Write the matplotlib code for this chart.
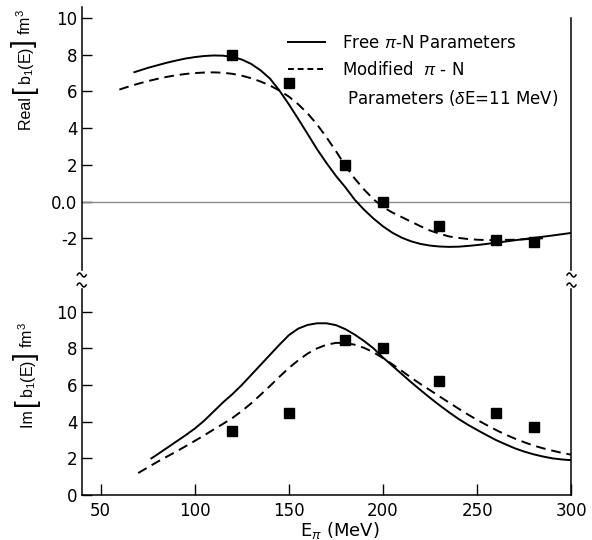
import numpy as np
import matplotlib
matplotlib.use("Agg")
import matplotlib.pyplot as plt
from matplotlib.lines import Line2D

# --- data ---
# top panel: Real part
re_free_x = [68, 75, 80, 85, 90, 95, 100, 105, 110, 115, 120, 125, 130, 135, 140, 145, 150,
             155, 160, 165, 170, 175, 180, 185, 190, 195, 200, 205, 210, 215, 220, 225, 230,
             235, 240, 245, 250, 255, 260, 265, 270, 280, 290, 300]
re_free_y = [7.05, 7.28, 7.42, 7.56, 7.68, 7.79, 7.87, 7.93, 7.96, 7.95, 7.88, 7.74, 7.5, 7.15,
             6.7, 6.05, 5.3, 4.5, 3.68, 2.85, 2.1, 1.4, 0.78, 0.1, -0.45, -0.93, -1.35, -1.7,
             -1.97, -2.17, -2.31, -2.4, -2.45, -2.47, -2.46, -2.42, -2.37, -2.31, -2.24, -2.18,
             -2.11, -1.98, -1.85, -1.71]
re_mod_x = [60, 65, 70, 75, 80, 85, 90, 95, 100, 105, 110, 115, 120, 125, 130, 135, 140, 145,
            150, 155, 160, 165, 170, 175, 180, 185, 190, 195, 200, 205, 210, 215, 220, 225, 230,
            235, 240, 245, 250, 255, 260, 270, 280, 285]
re_mod_y = [6.1, 6.27, 6.42, 6.56, 6.68, 6.79, 6.88, 6.95, 7.0, 7.03, 7.04, 7.02, 6.96, 6.86,
            6.72, 6.54, 6.32, 6.05, 5.72, 5.3, 4.8, 4.2, 3.5, 2.75, 1.95, 1.25, 0.65, 0.12,
            -0.3, -0.6, -0.85, -1.1, -1.35, -1.58, -1.75, -1.9, -1.98, -2.04, -2.08, -2.1,
            -2.1, -2.08, -2.03, -2.0]
re_data_x = [120, 150, 180, 200, 230, 260, 280]
re_data_y = [8.0, 6.45, 2.0, 0.0, -1.35, -2.1, -2.2]

# bottom panel: Imaginary part
im_free_x = [77, 80, 85, 90, 95, 100, 105, 110, 115, 120, 125, 130, 135, 140, 145, 150, 155,
             160, 165, 170, 175, 180, 185, 190, 195, 200, 205, 210, 215, 220, 225, 230, 235,
             240, 245, 250, 255, 260, 265, 270, 275, 280, 285, 290, 295, 300]
im_free_y = [2.0, 2.2, 2.55, 2.9, 3.25, 3.62, 4.05, 4.55, 5.05, 5.5, 6.0, 6.55, 7.1, 7.65,
             8.2, 8.72, 9.08, 9.28, 9.37, 9.37, 9.27, 9.05, 8.75, 8.4, 8.0, 7.5, 7.05, 6.6,
             6.15, 5.72, 5.3, 4.9, 4.52, 4.16, 3.84, 3.55, 3.27, 3.0, 2.77, 2.55, 2.37, 2.22,
             2.1, 2.0, 1.94, 1.9]
im_mod_x = [70, 75, 80, 85, 90, 95, 100, 105, 110, 115, 120, 125, 130, 135, 140, 145, 150,
            155, 160, 165, 170, 175, 180, 185, 190, 195, 200, 205, 210, 215, 220, 225, 230,
            235, 240, 245, 250, 255, 260, 265, 270, 275, 280, 285, 290, 295, 300]
im_mod_y = [1.2, 1.5, 1.8, 2.08, 2.36, 2.65, 2.95, 3.25, 3.57, 3.88, 4.2, 4.58, 5.0, 5.47,
            5.95, 6.45, 6.93, 7.35, 7.72, 8.0, 8.2, 8.3, 8.3, 8.2, 8.03, 7.78, 7.47, 7.13,
            6.77, 6.4, 6.05, 5.72, 5.38, 5.05, 4.72, 4.4, 4.1, 3.82, 3.55, 3.3, 3.08, 2.88,
            2.7, 2.55, 2.42, 2.3, 2.2]
im_data_x = [120, 150, 180, 200, 230, 260, 280]
im_data_y = [3.5, 4.5, 8.45, 8.0, 6.2, 4.5, 3.7]

top_ticks = [-2, 0, 2, 4, 6, 8, 10]
top_ticklabels = ["-2", "0.0", "2", "4", "6", "8", "10"]
bot_ticks = [0, 2, 4, 6, 8, 10]
x_ticks = [50, 100, 150, 200, 250, 300]

plt.rcParams['font.family'] = ['DejaVu Sans']
plt.rcParams['mathtext.fontset'] = 'custom'
plt.rcParams['mathtext.rm'] = 'Liberation Sans'
plt.rcParams['mathtext.it'] = 'Liberation Sans:italic'
plt.rcParams['mathtext.bf'] = 'Liberation Sans:bold'

W, H = 592.0, 540.0
fig = plt.figure(figsize=(5.92, 5.40), dpi=100)
ax1 = fig.add_axes([0.138, 0.5, 0.827, 0.487])
ax2 = fig.add_axes([0.138, 0.0833, 0.827, 0.3815])

lw = 1.4
for ax in (ax1, ax2):
    ax.set_xlim(40, 300)
    for s in ax.spines.values():
        s.set_linewidth(1.1)
    ax.spines['top'].set_visible(False)
    ax.tick_params(axis='y', direction='in', length=7, width=1, pad=3,
                   labelsize=12, right=False)

# top panel
ax1.set_ylim(-3.73, 10.6)
ax1.spines['bottom'].set_visible(False)
ax1.spines['right'].set_bounds(-3.73, 10)
ax1.tick_params(axis='x', bottom=False, labelbottom=False)
ax1.set_yticks(top_ticks)
ax1.set_yticklabels(top_ticklabels)
ax1.axhline(0, color='#8a8a8a', lw=1.0)
ax1.plot(re_free_x, re_free_y, 'k-', lw=lw)
ax1.plot(re_mod_x, re_mod_y, 'k--', lw=lw, dashes=(5, 3))
ax1.plot(re_data_x, re_data_y, 'ks', ms=6.5, clip_on=False)

handles = [Line2D([], [], color='k', lw=lw),
           Line2D([], [], color='k', lw=lw, ls='--', dashes=(3, 2)),
           Line2D([], [], color='none')]
labels = [r"Free $\pi$-N Parameters", r"Modified  $\pi$ - N", r" Parameters ($\delta$E=11 MeV)"]
ax1.legend(handles, labels, loc='upper left', bbox_to_anchor=(0.422, 0.898),
           frameon=False, handlelength=2.2, handletextpad=1.0,
           labelspacing=0.55, borderpad=0, borderaxespad=0,
           prop={'family': 'DejaVu Sans', 'size': 12})

# bottom panel
ax2.set_ylim(0, 11.24)
ax2.set_yticks(bot_ticks)
ax2.set_xticks(x_ticks)
ax2.tick_params(axis='x', direction='in', length=8, width=1, pad=5, labelsize=12, top=False)
ax2.plot(im_free_x, im_free_y, 'k-', lw=lw)
ax2.plot(im_mod_x, im_mod_y, 'k--', lw=lw, dashes=(5, 3))
ax2.plot(im_data_x, im_data_y, 'ks', ms=6.5, clip_on=False)
ax2.text(0.528, -0.17, r"E$_\pi$ (MeV)", transform=ax2.transAxes,
         ha='center', va='center', fontsize=13)


# vertical labels built from pieces so the brackets can be tall
def vlabel(parts, x_base, y_start):
    r = fig.canvas.get_renderer()
    y = H - y_start
    for s, size in parts:
        t = fig.text(0, 0, s, fontsize=size, family='Liberation Sans')
        w = t.get_window_extent(renderer=r).width
        t.remove()
        fig.text(x_base / W, y / H, s, fontsize=size, family='Liberation Sans',
                 rotation=90, rotation_mode='anchor', ha='left', va='baseline')
        y += w


fs = 11.5
vlabel([("Real ", fs), ("[", 20), (r"b$_1$(E)", fs), ("]", 20), (r" fm$^3$", fs)], 31, 130)
vlabel([("Im ", fs), ("[", 20), (r"b$_1$(E)", fs), ("]", 20), (r" fm$^3$", fs)], 33, 428)

# axis break marks (small waves on both spines)
t = np.linspace(0, 2 * np.pi, 30)
for xp in (81.7, 571.5):
    for yp in (275, 285):
        wx = (xp - 4.5 + 9 * t / (2 * np.pi)) / W
        wy = 1 - (yp - 2.0 * np.sin(t)) / H
        fig.add_artist(Line2D(wx, wy, color='k', lw=1.1, transform=fig.transFigure))

fig.savefig("out.png", dpi=100, facecolor='white')
